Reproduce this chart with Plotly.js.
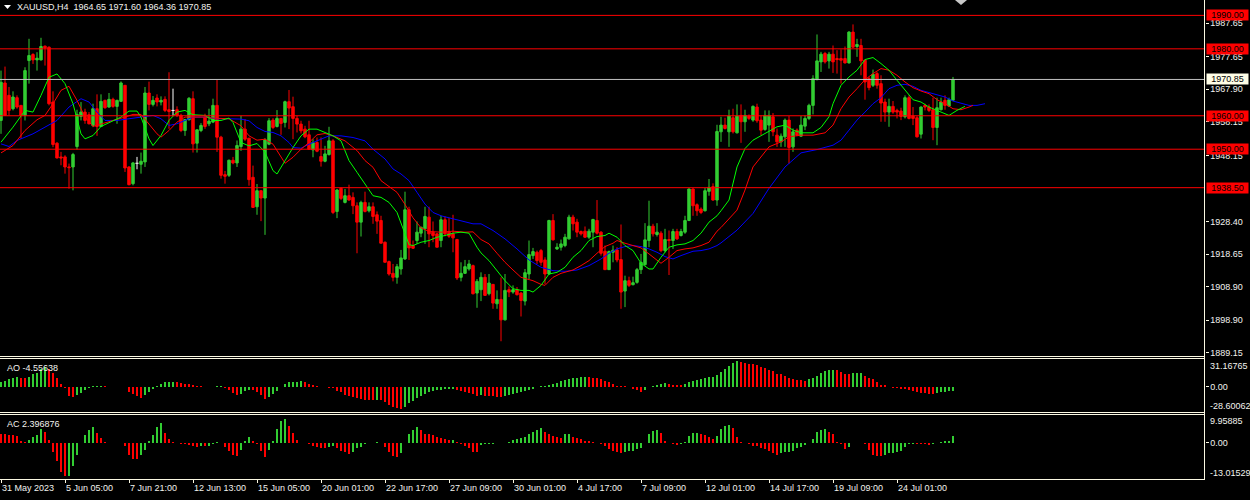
<!DOCTYPE html>
<html>
<head>
<meta charset="utf-8">
<script src="https://cdn.plot.ly/plotly-3.0.1.min.js"></script>
<style>html,body{margin:0;padding:0;background:#000;}#chart{width:1250px;height:500px;}</style>
</head>
<body>
<div id="chart"></div>
<script>
// ---------------- DATA ----------------
const symbol = "XAUUSD";
const timeframe = "H4";

const tickIdx = [0,16,32,48,64,80,96,112,128,144,160,176,192,208,224];
const tickLabels = ["31 May 2023","5 Jun 05:00","7 Jun 21:00","12 Jun 13:00","15 Jun 05:00","20 Jun 01:00","22 Jun 17:00","27 Jun 09:00","30 Jun 01:00","4 Jul 17:00","7 Jul 09:00","12 Jul 01:00","14 Jul 17:00","19 Jul 09:00","24 Jul 01:00"];

const open = [
1958.6,1969.8,1966.1,1962.1,1965.4,1963.1,1960.1,1976.5,1978.3,1976.7,
1976.7,1980.8,1980.5,1964.1,1951.8,1947.7,1947.7,1944.7,1944.7,1950.8,
1959.8,1961.1,1960.3,1957.1,1962.1,1956.8,1964.6,1962.6,1964.9,1962.8,
1964.3,1969.1,1944.7,1939.7,1945.8,1945.5,1946.2,1966.8,1963.4,1965.3,
1964.1,1964.9,1961.8,1961.6,1961.8,1960.1,1955.6,1958.8,1965.1,1951.8,
1955.6,1959.6,1957.6,1958.1,1963.1,1953.6,1942.4,1942.2,1946.7,1945.9,
1950.8,1956.0,1953.3,1941.6,1932.8,1937.6,1935.4,1951.5,1958.7,1956.8,
1959.2,1958.0,1964.2,1962.7,1959.2,1957.5,1956.0,1954.3,1949.8,1952.0,
1947.8,1946.4,1948.4,1952.5,1931.4,1938.3,1934.1,1936.1,1935.6,1933.1,
1928.2,1934.1,1931.6,1932.8,1930.4,1928.7,1922.2,1916.4,1912.9,1911.7,
1914.2,1917.2,1931.9,1921.2,1922.7,1924.9,1926.2,1929.7,1925.2,1924.7,
1922.7,1928.9,1925.2,1924.7,1923.0,1911.7,1912.9,1914.2,1915.2,1907.0,
1908.0,1911.7,1906.8,1909.6,1903.8,1905.1,1899.0,1908.0,1907.3,1908.0,
1907.0,1904.6,1912.7,1918.2,1919.2,1919.7,1916.9,1912.7,1928.7,1920.2,
1920.7,1921.2,1923.2,1929.7,1928.2,1925.4,1925.5,1923.7,1925.2,1928.7,
1925.2,1919.5,1914.0,1919.2,1919.9,1917.0,1907.6,1910.7,1909.5,1910.2,
1914.0,1915.5,1922.7,1927.0,1924.5,1924.9,1919.7,1923.0,1922.7,1925.4,
1924.2,1925.2,1928.7,1938.1,1933.4,1932.1,1931.6,1937.4,1938.8,1934.8,
1955.2,1957.2,1955.2,1959.4,1954.9,1960.1,1958.2,1959.9,1958.7,1962.6,
1958.7,1955.9,1957.2,1959.7,1954.2,1952.2,1953.7,1958.7,1950.7,1955.7,
1953.9,1956.9,1959.2,1963.1,1970.8,1976.1,1978.6,1976.4,1978.4,1977.1,
1977.1,1977.1,1975.8,1985.0,1980.7,1981.0,1976.6,1971.1,1969.1,1972.6,
1969.6,1964.1,1961.1,1962.8,1961.6,1961.4,1959.7,1965.4,1959.9,1959.4,
1954.5,1963.1,1962.6,1961.8,1956.5,1961.8,1964.6,1962.9,1964.65];

const high = [
1973.5,1974.7,1968.6,1967.3,1966.1,1963.1,1974.5,1983.0,1978.7,1979.0,
1983.3,1981.0,1980.7,1967.3,1952.1,1949.2,1948.2,1945.7,1948.9,1961.8,
1964.1,1962.1,1961.1,1963.6,1966.4,1966.4,1964.8,1966.8,1965.4,1964.8,
1970.25,1969.1,1944.9,1946.2,1947.7,1949.0,1968.6,1970.2,1965.9,1966.4,
1965.8,1965.8,1973.0,1968.1,1962.8,1960.6,1958.9,1965.6,1967.3,1955.9,
1957.8,1960.6,1962.1,1965.1,1970.7,1954.0,1943.5,1946.9,1947.7,1952.6,
1960.0,1959.0,1953.3,1945.1,1939.6,1937.6,1953.3,1959.3,1959.3,1961.7,
1959.3,1964.5,1967.7,1965.7,1960.0,1958.5,1957.0,1958.5,1953.0,1953.5,
1953.5,1951.0,1956.7,1953.0,1938.1,1938.6,1938.1,1939.4,1937.1,1934.1,
1934.6,1937.3,1934.1,1934.1,1931.4,1930.1,1922.4,1916.7,1915.7,1915.7,
1919.9,1937.3,1932.8,1922.7,1928.4,1926.7,1932.8,1932.8,1928.4,1924.9,
1930.1,1929.9,1929.5,1930.4,1923.2,1916.2,1916.9,1916.9,1915.5,1911.2,
1913.2,1912.7,1912.7,1909.6,1907.8,1911.7,1912.7,1909.0,1909.3,1908.8,
1907.3,1914.2,1922.7,1920.5,1919.7,1920.2,1917.7,1928.9,1930.6,1921.9,
1923.0,1924.7,1930.4,1930.4,1929.2,1925.7,1926.9,1926.2,1929.2,1934.8,
1925.5,1921.2,1919.7,1921.2,1920.7,1927.5,1912.2,1911.9,1911.9,1914.5,
1918.7,1927.9,1934.6,1927.7,1927.9,1925.5,1926.2,1925.7,1926.2,1926.2,
1926.2,1930.1,1938.3,1938.3,1933.8,1932.6,1938.4,1941.1,1939.8,1957.3,
1959.7,1959.4,1961.8,1962.1,1963.4,1963.4,1961.8,1960.4,1963.1,1963.6,
1960.1,1961.6,1961.6,1960.8,1956.2,1954.7,1959.2,1959.9,1956.2,1956.2,
1959.9,1960.1,1963.6,1972.1,1984.3,1979.1,1979.1,1979.1,1981.0,1979.6,
1979.8,1980.7,1985.3,1987.3,1983.0,1983.0,1976.8,1971.6,1973.8,1973.1,
1972.1,1965.1,1965.1,1964.4,1962.1,1962.4,1966.1,1966.1,1962.6,1959.9,
1962.8,1963.6,1963.4,1965.4,1965.4,1965.4,1966.1,1965.4,1971.60];

const low = [
1954.6,1960.1,1960.1,1961.6,1962.1,1953.1,1958.6,1969.6,1975.5,1973.5,
1976.5,1975.0,1963.1,1950.6,1947.2,1945.2,1942.7,1938.2,1937.7,1949.9,
1958.6,1957.6,1957.4,1956.6,1954.0,1956.6,1962.1,1962.4,1962.4,1957.6,
1964.1,1943.2,1939.2,1939.2,1944.0,1942.7,1944.7,1961.6,1962.8,1962.8,
1963.1,1961.1,1956.1,1959.9,1959.6,1955.1,1954.0,1958.6,1949.0,1949.0,
1955.1,1956.1,1956.9,1957.8,1949.2,1941.2,1939.7,1941.7,1945.5,1944.7,
1949.5,1952.5,1939.1,1932.6,1930.4,1928.5,1924.4,1951.2,1956.0,1956.5,
1954.3,1956.5,1956.0,1953.0,1955.0,1954.7,1953.3,1949.8,1947.6,1949.1,
1944.8,1946.1,1948.1,1930.6,1929.4,1934.8,1933.8,1934.6,1930.6,1918.9,
1923.9,1931.1,1931.1,1927.7,1924.7,1921.9,1916.2,1912.2,1910.5,1909.8,
1912.5,1916.9,1916.9,1920.2,1921.7,1923.7,1921.7,1920.7,1922.2,1920.7,
1920.7,1924.0,1923.5,1919.2,1910.9,1910.5,1912.7,1913.7,1906.6,1902.6,
1904.6,1906.3,1906.3,1902.3,1902.3,1892.6,1898.8,1905.8,1906.8,1906.3,
1900.0,1903.3,1911.2,1917.2,1915.7,1915.2,1909.7,1912.5,1922.7,1919.9,
1919.7,1920.7,1923.0,1925.7,1923.7,1924.2,1923.5,1923.2,1920.7,1924.5,
1918.2,1913.9,1913.9,1916.2,1916.2,1902.3,1902.8,1908.8,1909.3,1909.8,
1912.7,1915.2,1920.7,1923.9,1923.9,1919.2,1919.2,1912.4,1920.2,1922.9,
1923.9,1924.7,1928.5,1930.1,1930.1,1930.6,1931.4,1936.1,1934.6,1933.1,
1952.2,1955.9,1950.7,1954.7,1954.7,1951.9,1955.2,1958.7,1958.2,1957.9,
1954.2,1955.5,1952.2,1953.9,1950.7,1950.7,1950.7,1945.7,1949.2,1953.9,
1953.7,1955.7,1958.7,1960.4,1970.6,1973.1,1975.6,1974.1,1972.8,1972.6,
1969.6,1975.6,1975.6,1980.3,1977.6,1972.1,1964.8,1967.6,1968.6,1968.1,
1958.2,1958.2,1956.7,1960.6,1959.2,1958.7,1959.2,1958.9,1957.2,1953.5,
1953.2,1961.6,1961.1,1952.7,1951.2,1961.6,1961.8,1962.6,1964.36];

const close = [
1970.0,1960.1,1961.6,1965.6,1962.6,1960.1,1973.5,1978.0,1976.7,1977.2,
1980.7,1980.3,1963.6,1951.4,1947.4,1947.4,1944.7,1944.5,1948.4,1960.4,
1961.1,1958.6,1957.6,1962.1,1956.8,1964.3,1962.4,1964.9,1962.8,1964.6,
1969.8,1944.4,1939.4,1945.9,1945.8,1946.4,1966.8,1963.4,1964.6,1964.1,
1964.6,1961.6,1961.3,1961.6,1960.1,1955.6,1958.9,1965.2,1951.6,1955.8,
1957.1,1956.8,1958.4,1963.1,1953.6,1942.2,1941.9,1946.7,1945.9,1951.1,
1956.0,1953.0,1940.9,1932.6,1937.6,1935.4,1952.8,1958.5,1956.5,1959.2,
1957.7,1964.2,1962.3,1959.2,1957.5,1955.5,1953.7,1950.0,1952.0,1949.4,
1946.4,1948.6,1952.5,1931.1,1937.8,1935.3,1936.1,1934.8,1933.1,1928.2,
1934.1,1931.4,1932.8,1929.9,1928.5,1921.9,1916.2,1912.7,1911.7,1914.9,
1917.5,1931.9,1920.5,1920.4,1925.2,1926.7,1929.9,1924.7,1924.2,1920.7,
1928.9,1924.7,1924.0,1923.5,1911.5,1912.9,1914.9,1915.7,1906.8,1910.5,
1911.7,1906.3,1910.0,1904.0,1905.1,1899.0,1907.8,1907.3,1908.0,1906.5,
1904.8,1913.1,1918.5,1919.4,1916.7,1916.2,1912.7,1928.7,1922.9,1920.7,
1921.7,1923.7,1929.7,1927.7,1925.2,1924.7,1923.7,1925.5,1929.0,1924.9,
1918.9,1914.0,1919.4,1919.8,1916.9,1907.3,1910.7,1909.3,1910.1,1914.0,
1916.2,1922.9,1927.0,1924.7,1925.2,1919.7,1923.0,1922.7,1925.4,1923.2,
1925.4,1928.7,1938.1,1933.1,1931.6,1931.1,1937.6,1938.6,1934.8,1955.3,
1957.2,1956.2,1959.9,1955.2,1959.9,1958.2,1960.1,1959.2,1962.8,1958.5,
1955.7,1960.1,1960.1,1955.2,1952.2,1953.9,1958.7,1950.5,1955.2,1954.2,
1957.2,1959.2,1963.1,1971.1,1976.4,1978.4,1976.1,1978.4,1976.1,1976.8,
1976.6,1975.8,1985.0,1980.5,1981.3,1976.4,1970.1,1968.4,1972.4,1969.1,
1963.8,1961.1,1962.8,1961.1,1961.1,1959.8,1965.4,1959.2,1959.2,1953.7,
1962.6,1962.6,1961.6,1956.5,1962.4,1964.1,1963.1,1964.8,1970.85];

// Alligator lines, sampled along the picture (bar index, price)
const lipsX = [0,3,6,8,10,12,14,16,18,20,21,23,25,28,30,32,34,35,37,38,40,42,44,46,48,51,53,55,57,58,60,62,64,66,68,69,71,73,75,77,79,81,83,85,87,89,91,93,95,97,99,101,102,103,105,107,109,111,113,115,117,119,120,122,124,126,128,130,132,133,135,137,139,141,143,145,147,149,151,152,154,156,158,160,162,163,165,167,169,171,173,175,177,179,180,182,184,186,188,192,194,196,198,200,203,205,207,208,210,212,214,216,218,220,222,224,226,228,230,232,234,236,237,239,241];
const lipsY = [1952.1,1956.6,1961.6,1961.1,1966.1,1971.5,1972.5,1969.6,1963.6,1954.6,1953.1,1954.1,1956.8,1958.6,1959.6,1961.4,1961.4,1959.6,1953.1,1951.1,1954.1,1958.6,1961.1,1961.6,1960.3,1960.1,1958.6,1958.6,1959.3,1958.0,1952.0,1951.0,1951.7,1949.1,1943.6,1942.6,1946.6,1950.5,1954.0,1956.0,1956.0,1955.0,1954.0,1952.5,1946.6,1943.1,1939.6,1936.1,1935.6,1934.1,1931.1,1924.7,1921.5,1921.2,1922.2,1922.7,1923.7,1924.2,1924.9,1925.2,1924.9,1920.7,1919.0,1916.7,1913.7,1910.7,1908.3,1907.8,1907.8,1907.3,1909.3,1912.7,1913.2,1914.7,1917.7,1919.7,1922.7,1923.9,1924.2,1924.9,1923.7,1921.2,1919.7,1915.9,1914.2,1914.2,1917.7,1920.7,1921.4,1921.7,1922.7,1924.9,1928.2,1930.1,1931.6,1934.8,1944.7,1950.2,1952.7,1955.2,1956.7,1957.2,1955.7,1954.9,1954.9,1956.5,1959.7,1963.6,1969.1,1971.6,1973.6,1976.8,1977.4,1975.6,1973.6,1970.6,1967.8,1964.8,1964.1,1962.6,1961.6,1960.6,1960.1,1961.6,1962.8];

const teethX = [0,3,6,9,11,13,15,17,19,21,23,25,28,31,33,35,37,39,40,42,44,46,48,51,53,55,57,60,62,64,66,68,70,71,73,75,77,79,81,83,86,89,91,93,95,97,99,101,103,105,107,110,113,116,118,120,122,124,126,128,130,133,135,136,138,140,143,145,147,149,151,153,154,156,158,160,162,164,165,167,169,171,173,175,177,179,180,184,186,188,192,195,197,200,203,206,208,210,212,214,216,218,220,222,224,226,228,230,232,234,236,238,240,242,243];
const teethY = [1948.9,1951.1,1955.6,1958.8,1960.1,1963.6,1967.6,1968.8,1964.6,1959.6,1956.8,1957.6,1958.6,1959.6,1960.4,1960.4,1957.6,1954.6,1953.6,1955.6,1958.1,1959.6,1959.6,1959.6,1959.3,1959.1,1959.1,1957.0,1954.0,1952.7,1953.0,1951.5,1947.6,1945.8,1947.6,1950.0,1952.0,1954.3,1954.7,1954.0,1952.5,1949.6,1946.6,1944.6,1940.6,1938.8,1937.1,1933.5,1929.5,1926.5,1925.4,1925.2,1925.5,1925.2,1925.3,1923.0,1921.7,1918.9,1916.2,1913.9,1911.7,1910.7,1909.6,1909.3,1911.7,1912.9,1913.9,1915.2,1916.7,1918.9,1920.9,1921.9,1922.7,1921.9,1921.2,1920.5,1918.7,1916.7,1915.9,1917.7,1919.7,1920.2,1920.5,1921.2,1922.2,1925.5,1926.6,1931.8,1937.8,1944.7,1950.7,1952.2,1953.7,1954.2,1954.2,1954.9,1957.2,1962.1,1965.6,1968.1,1970.8,1972.6,1974.1,1973.6,1972.1,1970.1,1968.4,1967.4,1966.6,1964.8,1963.6,1962.1,1961.8,1962.6,1963.1];

const jawX = [0,2,4,8,11,14,17,20,22,24,26,29,32,35,38,40,42,44,46,48,51,54,57,60,62,64,66,68,70,72,73,75,77,80,82,85,88,91,93,96,98,100,102,104,106,108,110,113,116,118,120,123,126,129,132,135,138,141,144,147,150,152,154,156,158,160,162,164,166,168,170,173,175,177,179,180,184,188,192,196,200,204,208,210,212,214,216,218,220,222,224,226,228,230,233,236,238,240,242,244,246];
const jawY = [1951.6,1950.8,1952.6,1954.6,1956.6,1958.6,1962.6,1965.1,1964.1,1961.1,1958.6,1958.6,1959.1,1959.6,1960.1,1959.1,1957.1,1957.6,1958.6,1959.6,1959.6,1959.1,1959.1,1959.0,1958.5,1956.5,1955.3,1955.0,1954.0,1952.0,1950.5,1950.3,1951.5,1953.0,1954.0,1954.0,1953.5,1952.5,1950.0,1947.1,1944.1,1942.6,1940.6,1937.1,1933.6,1931.1,1930.1,1929.2,1928.2,1927.7,1927.7,1925.7,1923.2,1920.2,1916.9,1914.7,1913.7,1913.5,1913.9,1915.2,1917.2,1918.9,1920.2,1920.9,1921.2,1920.9,1920.2,1919.2,1917.9,1917.2,1918.2,1919.5,1919.7,1920.2,1921.2,1922.0,1925.8,1930.8,1938.3,1944.7,1948.9,1949.9,1951.2,1952.7,1955.7,1958.7,1961.1,1963.6,1965.4,1968.1,1969.1,1969.4,1968.8,1967.6,1966.6,1965.6,1964.4,1963.8,1963.1,1963.1,1963.6];

// Awesome Oscillator and Accelerator Oscillator, one value per bar
const aoValues = [
5.5,6.6,8.6,9.8,10.5,10.2,9.8,11.3,13.7,15.2,
20.3,22.3,20.3,15.2,9.8,3.5,-1.2,-10.9,-12.1,-9.8,
-7.0,-3.9,-1.2,0.2,0.3,0.4,0.3,0.1,-0.2,-0.4,
-0.6,-0.9,-5.9,-8.2,-10.9,-12.9,-9.8,-5.9,-2.7,0.4,
3.5,4.7,5.1,5.3,4.7,3.9,3.5,2.7,2.0,0.8,
0.3,0.1,-0.3,-0.1,0.2,0.3,-1.5,-4.3,-7.0,-9.8,
-7.8,-5.1,-3.9,-4.3,-5.9,-9.8,-14.1,-11.7,-8.2,-5.1,
-0.5,3.5,5.1,5.3,5.6,5.8,4.7,2.7,2.0,0.8,
0.1,-0.5,-1.0,-1.5,-5.1,-5.9,-9.0,-10.9,-12.1,-12.9,
-13.7,-14.5,-14.8,-15.0,-14.9,-15.6,-17.6,-20.7,-23.4,-24.6,
-25.4,-22.7,-18.8,-16.0,-12.9,-10.9,-8.2,-5.9,-5.1,-4.3,
-3.9,-3.1,-2.7,-2.6,-4.3,-4.5,-5.9,-7.0,-8.2,-10.2,
-9.8,-10.9,-11.0,-11.1,-11.2,-11.3,-10.5,-9.8,-8.2,-7.0,
-5.9,-5.1,-3.9,-2.3,-0.8,0.4,1.2,1.6,2.7,4.3,
5.9,7.8,8.6,9.4,10.2,10.9,11.0,10.5,10.2,9.8,
8.2,6.6,4.7,3.5,0.8,0.4,0.3,-0.4,-3.1,-4.3,
-5.9,-3.5,0.0,0.4,2.0,3.5,3.6,2.7,2.0,1.6,
1.5,3.5,5.1,5.9,7.4,8.2,9.8,10.5,11.3,13.3,
16.4,20.3,23.0,27.0,28.5,27.7,26.2,26.0,25.4,24.2,
22.3,21.5,19.1,17.6,14.5,13.7,12.5,9.8,8.6,7.4,
7.3,6.6,8.6,9.4,12.5,15.2,17.6,19.1,19.3,18.4,
16.4,14.5,14.4,15.0,15.2,15.3,12.5,9.8,8.6,4.7,
2.0,1.6,0.1,-1.2,-2.0,-3.1,-3.2,-4.3,-5.1,-5.9,
-7.0,-7.1,-7.8,-7.9,-7.0,-6.2,-5.9,-5.1,-4.55638];

const acValues = [
3.3,3.0,2.8,2.7,2.4,0.6,0.1,1.0,2.2,2.8,
5.0,4.0,1.0,-3.3,-6.7,-10.4,-12.1,-11.8,-8.2,-4.5,
0.0,2.8,4.6,5.5,3.4,1.6,0.1,0.0,-0.1,-0.1,
-0.1,-1.1,-4.3,-5.7,-5.8,-4.5,-2.7,0.5,2.8,5.5,
7.1,3.4,1.5,0.1,-0.2,-0.3,-0.5,-0.8,-1.2,-1.5,
-1.0,-1.2,-1.0,-0.6,0.2,-0.2,-1.5,-3.0,-4.5,-4.6,
-2.7,0.6,2.0,0.5,-0.6,-2.8,-5.1,-2.5,0.8,5.0,
7.7,8.7,6.1,3.4,1.0,-0.1,-0.2,-0.5,-1.0,-1.5,
-1.8,-1.9,-1.5,-1.3,-2.0,-2.8,-3.2,-3.9,-3.2,-2.0,
-1.5,-0.5,-0.2,-0.1,0.1,-0.1,-1.5,-3.4,-4.8,-5.1,
-3.7,0.0,3.3,4.6,5.5,4.6,3.3,3.0,2.8,2.0,
1.7,1.2,0.9,1.1,0.2,-0.5,-1.0,-1.8,-3.3,-3.5,
-0.8,-0.5,-0.4,-0.3,-0.1,-0.2,0.0,0.1,1.0,1.5,
1.6,2.0,3.0,4.0,4.6,5.2,4.0,3.0,2.6,2.2,
1.8,3.0,3.1,2.0,1.7,1.2,0.8,0.5,0.1,-0.2,
-0.6,-1.3,-2.2,-2.8,-3.5,-3.6,-3.4,-3.0,-2.8,-2.2,
-1.8,0.0,3.0,4.3,4.4,3.4,0.6,-0.2,-0.5,-0.8,
-0.3,0.3,2.5,3.4,3.5,3.0,2.9,2.2,1.5,2.6,
4.8,6.1,6.3,5.2,2.2,0.1,0.0,-0.5,-1.0,-1.3,
-1.8,-2.4,-3.0,-3.7,-4.3,-3.7,-3.4,-3.3,-3.0,-2.0,
-1.5,-0.8,0.0,1.5,3.7,4.6,4.8,3.7,3.0,0.2,
-0.5,-2.2,-1.5,-0.1,0.0,-0.1,-0.6,-2.6,-4.5,-4.6,
-4.9,-4.3,-3.7,-3.6,-3.4,-2.8,-1.5,-0.6,-0.3,-0.4,
-0.5,-0.6,-0.7,-0.3,0.0,0.3,0.6,0.8,2.396876];

const redLevels = [1990.00, 1980.00, 1960.00, 1950.00, 1938.50];
const currentPrice = 1970.85;
const priceTicks = [1987.65, 1977.65, 1967.90, 1958.15, 1948.15, 1928.40, 1918.65, 1908.90, 1898.90, 1889.15];
const aoScale = [-28.60062, 31.16765];
const acScale = [-13.01529, 9.95885];

// ---------------- STYLE / LAYOUT ----------------
const W = 1250, H = 500;
const UP = '#32CD32', DN = '#FF0000';
const FG = '#f2f2ee', AXIS = '#fbf8e2';
const FONT = 'Liberation Sans, Arial, sans-serif';
const XR = 1204.5 / W;                 // right edge of plotting area
const py = p => 1 - p / H;             // pixel row -> paper y
const px = p => p / W;                 // pixel col -> paper x

const N = open.length;
const idx = open.map((_, i) => i);
const isDoji = idx.map(i => open[i] === close[i]);
const nz = arr => arr.map((v, i) => isDoji[i] ? null : v);

function dirColors(vals, first) {
  let c = first;
  return vals.map((v, i) => {
    if (i > 0) { if (v > vals[i - 1]) c = UP; else if (v < vals[i - 1]) c = DN; }
    return c;
  });
}

const dojiX = [], dojiY = [];
idx.filter(i => isDoji[i]).forEach(i => {
  dojiX.push(i, i, null, i - 0.4, i + 0.4, null);
  dojiY.push(low[i], high[i], null, open[i], open[i], null);
});

const traces = [
  {
    type: 'candlestick', x: idx, open: nz(open), high: nz(high), low: nz(low), close: nz(close),
    xaxis: 'x', yaxis: 'y', hoverinfo: 'skip',
    increasing: { line: { color: UP, width: 1 }, fillcolor: UP },
    decreasing: { line: { color: DN, width: 1 }, fillcolor: DN },
    whiskerwidth: 0
  },
  { type: 'scatter', mode: 'lines', x: dojiX, y: dojiY, line: { color: '#ffffff', width: 1 }, xaxis: 'x', yaxis: 'y', hoverinfo: 'skip' },
  { type: 'scatter', mode: 'lines', x: jawX, y: jawY, line: { color: '#0000ff', width: 1 }, xaxis: 'x', yaxis: 'y', hoverinfo: 'skip' },
  { type: 'scatter', mode: 'lines', x: teethX, y: teethY, line: { color: '#ff0000', width: 1 }, xaxis: 'x', yaxis: 'y', hoverinfo: 'skip' },
  { type: 'scatter', mode: 'lines', x: lipsX, y: lipsY, line: { color: '#00ff00', width: 1 }, xaxis: 'x', yaxis: 'y', hoverinfo: 'skip' },
  { type: 'bar', x: idx, y: aoValues, width: 0.3, marker: { color: dirColors(aoValues, UP), line: { width: 0 } }, xaxis: 'x', yaxis: 'y2', hoverinfo: 'skip' },
  { type: 'bar', x: idx, y: acValues, width: 0.3, marker: { color: dirColors(acValues, DN), line: { width: 0 } }, xaxis: 'x', yaxis: 'y3', hoverinfo: 'skip' }
];

const tickFont = { family: FONT, size: 9, color: FG };

const shapes = [];
redLevels.forEach(lv => shapes.push({ type: 'line', xref: 'x domain', x0: 0, x1: 1, yref: 'y', y0: lv, y1: lv, line: { color: '#ff0000', width: 1 } }));
shapes.push({ type: 'line', xref: 'x domain', x0: 0, x1: 1, yref: 'y', y0: currentPrice, y1: currentPrice, line: { color: '#c0c0c0', width: 1 } });
[356.5, 358.5, 412.5, 414.5].forEach(p => shapes.push({ type: 'line', xref: 'paper', yref: 'paper', x0: 0, x1: XR, y0: py(p), y1: py(p), line: { color: AXIS, width: 1 } }));
shapes.push({ type: 'line', xref: 'paper', yref: 'paper', x0: XR, x1: XR, y0: py(479), y1: 1, line: { color: AXIS, width: 1 } });
shapes.push({ type: 'path', xref: 'paper', yref: 'paper', path: `M ${px(4)},${py(5)} L ${px(11)},${py(5)} L ${px(7.5)},${py(9)} Z`, fillcolor: '#ffffff', line: { width: 0 } });
shapes.push({ type: 'path', xref: 'paper', yref: 'paper', path: `M ${px(955)},${py(0)} L ${px(967)},${py(0)} L ${px(961)},${py(5)} Z`, fillcolor: '#c8c8c8', line: { width: 0 } });

const last = N - 1;
const annotations = [];
annotations.push({
  xref: 'paper', yref: 'paper', x: px(15), y: py(7), xanchor: 'left', yanchor: 'middle', showarrow: false,
  text: `${symbol},${timeframe}  ${open[last].toFixed(2)} ${high[last].toFixed(2)} ${low[last].toFixed(2)} ${close[last].toFixed(2)}`,
  font: { family: FONT, size: 9, color: FG }
});
annotations.push({ xref: 'paper', yref: 'paper', x: px(5), y: py(367.5), xanchor: 'left', yanchor: 'middle', showarrow: false, text: `AO ${aoValues[last]}`, font: { family: FONT, size: 9, color: FG } });
annotations.push({ xref: 'paper', yref: 'paper', x: px(5), y: py(423.5), xanchor: 'left', yanchor: 'middle', showarrow: false, text: `AC ${acValues[last]}`, font: { family: FONT, size: 9, color: FG } });
// oscillator scale extremes
[[aoScale[1], 365.7], [aoScale[0], 406], [acScale[1], 421.3], [acScale[0], 473.3]].forEach(([v, p]) =>
  annotations.push({ xref: 'paper', yref: 'paper', x: px(1208), y: py(p), xanchor: 'left', yanchor: 'middle', showarrow: false, text: String(v), font: { family: FONT, size: 9, color: FG } }));
// price labels on the right scale
redLevels.forEach(lv => annotations.push({
  xref: 'paper', yref: 'y', x: px(1205.5), y: lv, xanchor: 'left', yanchor: 'middle', showarrow: false,
  text: lv.toFixed(2), bgcolor: '#ff0000', width: 41, height: 10, borderpad: 0, align: 'center',
  font: { family: FONT, size: 9, color: '#000000' }
}));
annotations.push({
  xref: 'paper', yref: 'y', x: px(1205.5), y: currentPrice, xanchor: 'left', yanchor: 'middle', showarrow: false,
  text: currentPrice.toFixed(2), bgcolor: '#fffde6', width: 41, height: 10, borderpad: 0, align: 'center',
  font: { family: FONT, size: 9, color: '#000000' }
});

const layout = {
  width: W, height: H, margin: { l: 0, r: 0, t: 0, b: 0, pad: 0 },
  paper_bgcolor: '#000000', plot_bgcolor: '#000000', showlegend: false,
  boxgap: 0.22, boxgroupgap: 0.22, bargap: 0,
  xaxis: {
    domain: [0, XR], range: [-0.25, 300.875], anchor: 'y3', fixedrange: true,
    tickmode: 'array', tickvals: tickIdx, ticktext: tickLabels,
    ticks: 'outside', ticklen: 3, tickcolor: AXIS, tickwidth: 1,
    ticklabelposition: 'outside right', tickfont: tickFont,
    showline: true, linecolor: AXIS, linewidth: 1, showgrid: false, zeroline: false,
    rangeslider: { visible: false }
  },
  yaxis: {
    domain: [py(356.5), 1], range: [1888.04, 1994.6], side: 'right', anchor: 'x', fixedrange: true,
    tickmode: 'array', tickvals: priceTicks, ticktext: priceTicks.map(v => v.toFixed(2)),
    ticks: 'outside', ticklen: 3, tickcolor: AXIS, tickfont: tickFont,
    showline: false, showgrid: false, zeroline: false
  },
  yaxis2: {
    domain: [py(412), py(359)], range: aoScale, side: 'right', anchor: 'x', fixedrange: true,
    tickmode: 'array', tickvals: [0], ticktext: ['0.00'],
    ticks: 'outside', ticklen: 3, tickcolor: AXIS, tickfont: tickFont,
    showline: false, showgrid: false, zeroline: false
  },
  yaxis3: {
    domain: [py(479), py(415)], range: acScale, side: 'right', anchor: 'x', fixedrange: true,
    tickmode: 'array', tickvals: [0], ticktext: ['0.00'],
    ticks: 'outside', ticklen: 3, tickcolor: AXIS, tickfont: tickFont,
    showline: false, showgrid: false, zeroline: false
  },
  shapes: shapes,
  annotations: annotations
};

Plotly.newPlot('chart', traces, layout, { staticPlot: true, displayModeBar: false });
</script>
</body>
</html>
